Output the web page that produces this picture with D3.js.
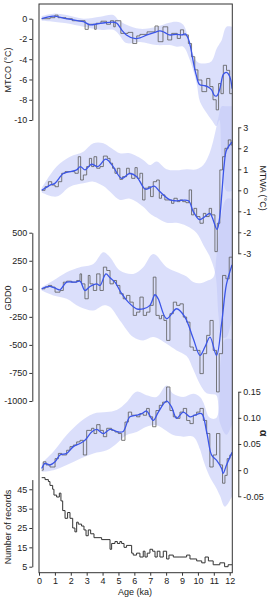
<!DOCTYPE html>
<meta charset="utf-8">
<head>
<style>
body { margin: 0; background: #fff; }
svg text { font-family: "Liberation Sans", Arial, sans-serif; fill: #222; }
</style>
</head>
<body>
<div id="chart"></div>
<script src="https://cdn.jsdelivr.net/npm/d3@7"></script>
<script>

// ---------- data ----------

// MTCO
var mtcoAge    = [0.17,0.9,1.7,2.4,2.8,3.2,3.7,4.15,4.7,4.9,5.2,5.5,6.0,6.35,6.8,7.3,7.6,7.9,8.2,8.65,9.0,9.2,9.4,9.55,9.7,9.9,10.1,10.4,10.6,10.85,11.05,11.2,11.4,11.6,11.8,12.0,12.15];
var mtcoSmooth = [0,0.25,0,-0.2,-0.3,-0.6,-0.5,-0.4,-0.35,-0.45,-1.1,-1.6,-1.95,-1.9,-1.6,-1.35,-1.2,-1.35,-1.6,-1.55,-1.6,-1.5,-2.0,-2.9,-4.2,-5.6,-6.5,-6.6,-6.7,-7.0,-7.6,-7.6,-6.8,-5.5,-5.3,-5.7,-6.9];
var mtcoStepAge = [0.17,0.7,1.0,1.2,1.7,2.1,2.9,3.1,3.5,3.6,3.9,4.25,4.5,4.7,4.8,5.15,5.6,5.9,6.15,6.35,6.8,7.3,7.5,7.8,8.1,8.35,8.7,8.9,9.1,9.4,9.6,9.8,10.0,10.25,10.55,10.75,10.95,11.15,11.3,11.45,11.6,11.8,12.0,12.15];
var mtcoStep    = [0,0.1,0.35,0.1,0,-0.2,-1.05,-0.55,-1.05,-0.45,-0.25,-0.55,-0.2,-0.8,-0.2,-1.45,-1.35,-2.45,-1.7,-1.55,-1.3,-0.72,-2.27,-0.8,-2.1,-1.45,-1.95,-1.1,-1.6,-2.45,-3.75,-5.05,-6.05,-7.2,-5.9,-6.7,-8.0,-9.0,-6.4,-7.4,-4.6,-5.1,-7.4,-7.4];
var mtcoBandAge = [0.17,0.9,1.74,2.79,3.84,4.68,5.0,5.5,6.35,7.4,8.2,8.66,9.08,9.5,9.92,10.13,10.55,10.86,11.17,11.35,11.5,11.8,12.15];
var mtcoUpper   = [0.26,0.5,0.36,0,0.2,0.36,-0.13,-0.6,-1.0,-0.8,-0.4,-0.3,-0.6,-2.6,-4.2,-4.4,-4.4,-4.2,-3.0,-2.5,-2.1,-0.8,-0.8];
var mtcoLower   = [-0.2,-0.3,-0.46,-0.8,-1.1,-1.1,-1.5,-2.4,-2.3,-2.6,-2.6,-2.76,-2.76,-4.1,-6.4,-8.2,-9.3,-10.0,-10.6,-10.0,-14,-17,-17];

// MTWA
var mtwaAge    = [0.17,0.7,1.0,1.53,2.05,2.37,2.6,2.9,3.3,3.7,4.2,4.6,5.2,5.7,6.15,6.7,7.25,7.6,8.25,8.65,9.4,9.7,10.1,10.45,10.75,11.2,11.35,11.5,11.65,11.8,12.15];
var mtwaSmooth = [0,0.25,0.33,0.8,0.9,0.97,1.13,0.97,1.24,1.13,1.48,1.2,0.57,0.8,0.65,0.05,0.2,-0.06,-0.46,-0.5,-0.5,-1.0,-1.4,-1.25,-1.1,-1.86,-1.4,-0.2,1.2,1.92,2.3];
var mtwaStepAge = [0.17,0.38,0.59,0.8,1.01,1.22,1.43,1.64,2.26,2.47,2.62,2.79,3.0,3.17,3.31,3.46,3.63,3.84,4.05,4.3,4.47,4.63,4.78,4.93,5.09,5.26,5.51,5.68,5.83,6.04,6.18,6.35,6.52,6.67,6.88,7.02,7.19,7.4,7.57,7.71,7.92,8.34,8.49,8.7,8.87,9.04,9.25,9.45,9.6,9.75,9.92,10.13,10.34,10.5,10.71,10.86,11.07,11.22,11.38,11.55,11.7,11.91,12.08,12.15];
var mtwaStep    = [0,0.17,0.41,0.25,0.17,0.41,0.81,0.89,0.81,1.6,0.49,0.73,1.13,1.52,1.13,1.6,1.05,1.13,1.63,1.52,1.29,1.05,0.81,1.05,0.52,0.65,1.05,0.81,0.57,1.08,0.57,0.81,-0.46,0.1,0.17,-0.3,0.41,0.49,-0.38,-0.22,-0.46,-0.62,-0.38,-0.54,-0.46,-0.54,-0.59,0.02,-1.17,-0.86,-1.25,-1.57,-1.1,-1.25,-0.86,-1.17,-2.92,-1.57,0.97,1.6,2.0,2.4,2.16,2.16];
var mtwaBandAge = [0.17,1.11,1.95,2.79,3.42,4.05,4.57,5.09,5.72,6.56,6.98,7.4,8.03,8.66,9.29,9.92,10.34,10.75,11.1,11.3,11.5,11.8,12.15];
var mtwaUpper   = [0.1,1.13,1.6,1.84,2.24,2.24,2.0,1.76,1.76,1.44,1.2,1.37,1.0,0.95,1.0,1.0,1.2,1.8,2.8,3.5,4,4,4];
var mtwaLower   = [-0.1,-0.3,0.17,0.33,0.41,0.2,-0.14,-0.46,-0.4,-0.78,-1.1,-1.3,-1.55,-1.55,-1.7,-2.03,-2.6,-3.16,-4.0,-6,-7,-7,-6];

// GDD0
var gddAge    = [0.17,0.69,1.11,1.32,1.74,2.26,2.58,2.89,3.21,3.63,3.84,4.21,4.47,4.78,5.2,5.62,6.14,6.56,6.98,7.3,7.5,8.03,8.66,9.18,9.71,10.13,10.44,10.76,11.17,11.49,11.8,12.16];
var gddSmooth = [0,21,0,-9,59,59,68,-15,21,44,30,133,98,59,-44,-119,-178,-178,-148,-53,-89,-267,-178,-252,-445,-593,-519,-430,-593,-311,44,216];
var gddStepAge = [0.17,0.38,0.59,0.8,1.01,1.32,1.53,1.74,2.05,2.37,2.58,2.68,2.89,3.1,3.21,3.42,3.63,3.84,4.05,4.26,4.47,4.68,4.88,5.09,5.3,5.51,5.72,5.93,6.14,6.35,6.56,6.77,6.98,7.19,7.36,7.57,7.71,7.86,8.03,8.24,8.45,8.66,8.87,9.08,9.29,9.5,9.71,9.92,10.13,10.34,10.55,10.76,10.96,11.17,11.34,11.55,11.76,11.97,12.16];
var gddStep    = [0,15,30,15,-30,-15,59,68,59,74,133,44,-89,119,44,-15,133,-15,193,163,44,74,30,-44,-89,-59,-119,-237,-208,-74,-237,-208,-148,104,-237,-267,-237,-282,-460,-222,-119,-148,-134,-252,-297,-519,-549,-549,-756,-578,-415,-282,-549,-919,-578,119,89,282,282];
var gddBandAge = [0.17,0.9,1.74,2.58,3.42,4.05,4.47,5.09,5.93,6.56,7.19,8.03,8.66,9.29,9.71,10.13,10.55,10.96,11.17,11.4,11.8,12.16];
var gddUpper   = [15,74,148,193,222,326,282,163,133,193,311,193,150,110,60,50,70,100,300,600,800,800];
var gddLower   = [-15,-59,-89,-163,-193,-148,-163,-282,-430,-460,-430,-489,-549,-600,-720,-850,-930,-940,-950,-1200,-1300,-1200];

// alpha
var alphaAge    = [0.17,0.38,0.69,1.01,1.32,1.74,2.16,2.58,2.89,3.31,3.63,4.05,4.47,4.99,5.3,5.72,6.14,6.46,6.77,7.19,7.51,8.03,8.34,8.66,9.08,9.5,9.81,10.23,10.55,10.86,11.17,11.49,11.59,11.8,12.15];
var alphaSmooth = [0.003,0.013,0.01,0.016,0.029,0.032,0.045,0.051,0.057,0.073,0.078,0.07,0.078,0.073,0.074,0.102,0.105,0.108,0.113,0.095,0.111,0.132,0.121,0.099,0.111,0.102,0.105,0.108,0.073,0.029,0.019,0.003,-0.006,0.01,0.034];
var alphaStepAge = [0.17,0.27,0.44,0.69,1.01,1.22,1.43,1.74,1.95,2.16,2.37,2.58,2.79,3.0,3.31,3.46,3.63,3.84,4.05,4.26,4.57,4.78,4.99,5.2,5.41,5.62,5.83,6.14,6.35,6.56,6.77,6.94,7.15,7.36,7.57,7.78,8.03,8.24,8.45,8.66,8.87,9.08,9.29,9.5,9.71,9.92,10.13,10.34,10.55,10.75,10.96,11.17,11.38,11.55,11.7,11.84,12.01,12.16];
var alphaStep    = [0,0.016,0.01,0.006,0.022,0.032,0.029,0.038,0.045,0.048,0.054,0.057,0.029,0.076,0.08,0.07,0.087,0.076,0.064,0.08,0.076,0.073,0.07,0.057,0.092,0.111,0.105,0.102,0.108,0.105,0.118,0.102,0.083,0.114,0.124,0.13,0.159,0.114,0.102,0.099,0.111,0.118,0.095,0.089,0.105,0.111,0.118,0.095,0.07,0.006,0.029,0.07,0.01,-0.025,-0.01,0.022,0.029,0.029];
var alphaBandAge = [0.17,0.9,1.74,2.58,3.42,4.26,4.89,5.51,6.14,6.77,7.4,8.03,8.45,9.08,9.71,10.13,10.34,10.75,11.17,11.4,11.7,12.15];
var alphaUpper   = [0.013,0.035,0.067,0.092,0.108,0.111,0.115,0.13,0.15,0.143,0.14,0.162,0.146,0.14,0.146,0.14,0.13,0.1,0.1,0.2,0.25,0.25];
var alphaLower   = [-0.003,0,0.01,0.022,0.032,0.038,0.051,0.067,0.073,0.083,0.086,0.075,0.067,0.064,0.064,0.04,0.019,-0.013,-0.035,-0.05,-0.07,-0.05];

// number of records
var recAge   = [0.17,0.38,0.59,0.69,0.86,0.94,1.11,1.28,1.38,1.49,1.64,1.8,1.95,2.12,2.26,2.37,2.47,2.68,2.83,2.96,3.1,3.25,3.46,3.94,4.47,4.57,4.78,4.93,5.09,5.2,5.35,5.51,5.83,5.93,6.14,6.35,6.56,6.67,6.81,6.98,7.15,7.3,7.44,7.61,7.82,8.03,8.18,8.45,8.87,9.29,9.5,9.92,10.24,10.45,10.66,10.96,11.38,11.68,11.9,12.15];
var recCount = [51,50,49,47,45,42,41,43,39,34,30,33,30,25,23,28,27,26,24,21,24,22,20,19,14,17,18,17,18,17,15,16,12,11,12,10,13,10,12,14,13,10,13,10,13,9,11,10,10,11,9,8,7,10,8,6,7,5,6,6];

// tick values
var ageTicks   = [0,1,2,3,4,5,6,7,8,9,10,11,12];
var mtcoTicks  = [0,-2,-4,-6,-8,-10];
var mtwaTicks  = [3,2,1,0,-1,-2,-3];
var gddTicks   = [500,250,0,-250,-500,-750,-1000];
var alphaTicks = [0.15,0.10,0.05,0,-0.05];
var recTicks   = [45,35,25,15,5];

// ---------- layout ----------
var frame = {left: 39, top: 4, right: 232.3, bottom: 572.7};
var leftAxisX = 32.3, rightAxisX = 238.3;

var svg = d3.select("#chart").append("svg")
  .attr("width", 271).attr("height", 600);

var x = d3.scaleLinear().domain([0, 12]).range([frame.left, 229.7]);

var yMtco  = d3.scaleLinear().domain([-10, 0]).range([120, 18.7]);
var yMtwa  = d3.scaleLinear().domain([-3, 3]).range([253.3, 127.3]);
var yGdd   = d3.scaleLinear().domain([-1000, 500]).range([401, 232.7]);
var yAlpha = d3.scaleLinear().domain([-0.05, 0.15]).range([496.3, 391.7]);
var yRec   = d3.scaleLinear().domain([5, 50]).range([566.7, 479.6]);

function zip(ages, vals) { return ages.map(function(a, i) { return {a: a, v: vals[i]}; }); }
function zipBand(ages, lo, hi) { return ages.map(function(a, i) { return {a: a, lo: lo[i], hi: hi[i]}; }); }

var panels = [
  {y: yMtco,  band: zipBand(mtcoBandAge, mtcoLower, mtcoUpper),  step: zip(mtcoStepAge, mtcoStep),  smooth: zip(mtcoAge, mtcoSmooth)},
  {y: yMtwa,  band: zipBand(mtwaBandAge, mtwaLower, mtwaUpper),  step: zip(mtwaStepAge, mtwaStep),  smooth: zip(mtwaAge, mtwaSmooth)},
  {y: yGdd,   band: zipBand(gddBandAge, gddLower, gddUpper),     step: zip(gddStepAge, gddStep),    smooth: zip(gddAge, gddSmooth)},
  {y: yAlpha, band: zipBand(alphaBandAge, alphaLower, alphaUpper), step: zip(alphaStepAge, alphaStep), smooth: zip(alphaAge, alphaSmooth)}
];

svg.append("clipPath").attr("id", "frameClip")
  .append("rect")
    .attr("x", frame.left).attr("y", frame.top)
    .attr("width", frame.right - frame.left).attr("height", frame.bottom - frame.top);

var plot = svg.append("g").attr("clip-path", "url(#frameClip)");

// bands first so all lines sit on top (semi transparent: overlaps come out a bit darker)
panels.forEach(function(p) {
  var area = d3.area()
    .x(function(d) { return x(d.a); })
    .y0(function(d) { return p.y(d.lo); })
    .y1(function(d) { return p.y(d.hi); })
    .curve(d3.curveCatmullRom.alpha(0.5));
  plot.append("path").datum(p.band)
    .attr("d", area)
    .attr("fill", "rgb(195,202,248)")
    .attr("fill-opacity", 0.6);
});

// stepped composites
panels.forEach(function(p) {
  var line = d3.line()
    .x(function(d) { return x(d.a); })
    .y(function(d) { return p.y(d.v); })
    .curve(d3.curveStepAfter);
  plot.append("path").datum(p.step)
    .attr("d", line)
    .attr("fill", "none")
    .attr("stroke", "#5a5a5a")
    .attr("stroke-width", 0.8);
});

// smoothed curves
panels.forEach(function(p) {
  var line = d3.line()
    .x(function(d) { return x(d.a); })
    .y(function(d) { return p.y(d.v); })
    .curve(d3.curveCatmullRom.alpha(0.5));
  plot.append("path").datum(p.smooth)
    .attr("d", line)
    .attr("fill", "none")
    .attr("stroke", "#3b55e8")
    .attr("stroke-width", 1.3);
});

// records
plot.append("path").datum(zip(recAge, recCount))
  .attr("d", d3.line()
    .x(function(d) { return x(d.a); })
    .y(function(d) { return yRec(d.v); })
    .curve(d3.curveStepAfter))
  .attr("fill", "none")
  .attr("stroke", "#333")
  .attr("stroke-width", 1);

// frame
svg.append("rect")
  .attr("x", frame.left).attr("y", frame.top)
  .attr("width", frame.right - frame.left).attr("height", frame.bottom - frame.top)
  .attr("fill", "none").attr("stroke", "#333").attr("stroke-width", 1);

// ---------- axes ----------
function fmtNum(d) { return d < 0 ? "-" + Math.abs(d) : "" + d; }
function fmtAlpha(d) { if (d === 0) return "0"; var s = Math.abs(d).toFixed(2); return d < 0 ? "-" + s : s; }

function styleAxis(g) {
  g.select(".domain").attr("stroke", "#333").attr("stroke-width", 1);
  g.selectAll(".tick line").attr("stroke", "#333");
  g.selectAll(".tick text").style("font-size", "9px").attr("fill", "#222");
}

svg.append("g").attr("transform", "translate(" + leftAxisX + ",0)")
  .call(d3.axisLeft(yMtco).tickValues(mtcoTicks).tickFormat(fmtNum).tickSize(3).tickSizeOuter(0).tickPadding(2))
  .call(styleAxis);
svg.append("g").attr("transform", "translate(" + rightAxisX + ",0)")
  .call(d3.axisRight(yMtwa).tickValues(mtwaTicks).tickFormat(fmtNum).tickSize(3).tickSizeOuter(0).tickPadding(2))
  .call(styleAxis);
svg.append("g").attr("transform", "translate(" + leftAxisX + ",0)")
  .call(d3.axisLeft(yGdd).tickValues(gddTicks).tickFormat(fmtNum).tickSize(3).tickSizeOuter(0).tickPadding(2))
  .call(styleAxis);
svg.append("g").attr("transform", "translate(" + rightAxisX + ",0)")
  .call(d3.axisRight(yAlpha).tickValues(alphaTicks).tickFormat(fmtAlpha).tickSize(3).tickSizeOuter(0).tickPadding(2))
  .call(styleAxis);
svg.append("g").attr("transform", "translate(" + leftAxisX + ",0)")
  .call(d3.axisLeft(yRec).tickValues(recTicks).tickFormat(fmtNum).tickSize(3).tickSizeOuter(0).tickPadding(2))
  .call(styleAxis);
svg.append("g").attr("transform", "translate(0," + frame.bottom + ")")
  .call(d3.axisBottom(x).tickValues(ageTicks).tickSize(3).tickSizeOuter(0).tickPadding(2))
  .call(styleAxis)
  .call(function(g) { g.select(".domain").remove(); });

// ---------- axis titles ----------
function vLabel(txt, cx, cy, rot, extra) {
  var t = svg.append("text")
    .attr("transform", "translate(" + cx + "," + cy + ") rotate(" + rot + ")")
    .attr("text-anchor", "middle")
    .attr("dy", "0.35em")
    .style("font-size", "9px")
    .text(txt);
  if (extra) extra(t);
}
vLabel("MTCO (°C)", 8, 70, -90);
vLabel("MTWA (°C)", 263, 188, 90);
vLabel("GDD0", 8, 298, -90);
vLabel("α", 264, 433, 90, function(t) { t.style("font-size", "11px").style("font-weight", "bold"); });
vLabel("Number of records", 8, 527, -90);

svg.append("text")
  .attr("x", 135).attr("y", 595)
  .attr("text-anchor", "middle")
  .style("font-size", "9px")
  .text("Age (ka)");

</script>
</body>
